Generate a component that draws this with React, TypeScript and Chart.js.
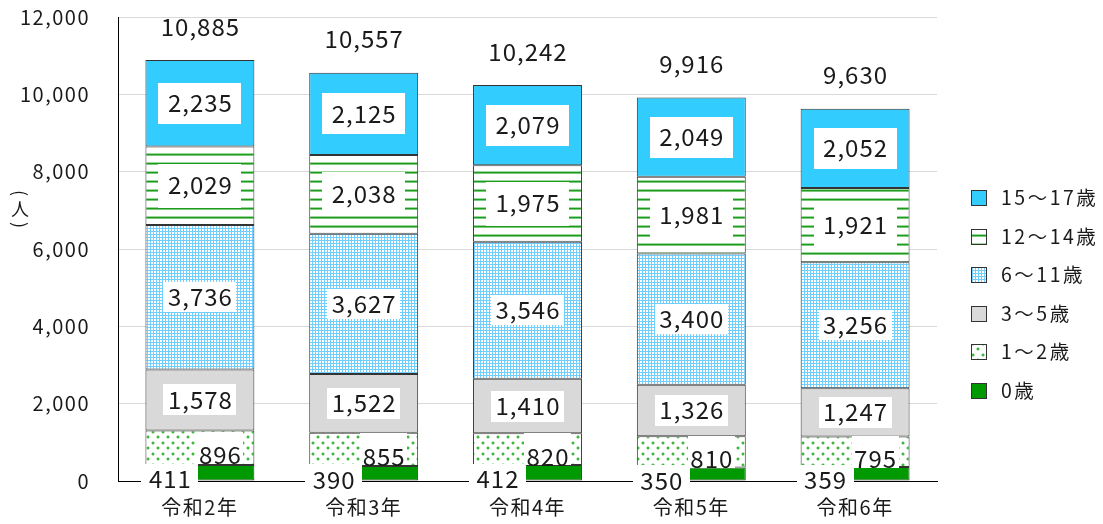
import React, { useEffect, useRef } from 'react';
import { Chart, registerables } from 'chart.js';

Chart.register(...registerables);

// ---- data ----
const categories = ['令和2年', '令和3年', '令和4年', '令和5年', '令和6年'];
const seriesNames = ['0歳', '1～2歳', '3～5歳', '6～11歳', '12～14歳', '15～17歳'];
const age0 = [411, 390, 412, 350, 359];
const age1to2 = [896, 855, 820, 810, 795];
const age3to5 = [1578, 1522, 1410, 1326, 1247];
const age6to11 = [3736, 3627, 3546, 3400, 3256];
const age12to14 = [2029, 2038, 1975, 1981, 1921];
const age15to17 = [2235, 2125, 2079, 2049, 2052];
const totals = [10885, 10557, 10242, 9916, 9630];
const yTicks = [0, 2000, 4000, 6000, 8000, 10000, 12000];
const yTitle = '（人）';

const FONT = '"Noto Sans CJK JP", "Noto Sans", sans-serif';

// label box styles per dataset (bottom to top)
const labelStyles = [
  { dx: -30, dy: 7, padX: 7, up: 16, down: 12 },
  { dx: 20, dy: 8, padX: 2, up: 24, down: 8 },
  { dx: 0, dy: 0, padX: 4, up: 15.5, down: 15.5 },
  { dx: 0, dy: 0, padX: 4, up: 15, down: 15 },
  { dx: 0, dy: 0, padX: 9, up: 22, down: 22 },
  { dx: 0, dy: 0, padX: 9, up: 20.5, down: 20.5 },
];

const fmt = (v: number) => v.toLocaleString('en-US');

export default function App() {
  const ref = useRef<HTMLCanvasElement>(null);

  useEffect(() => {
    document.body.style.margin = '0';
    const canvas = ref.current!;
    const ctx = canvas.getContext('2d')!;

    const tile = (w: number, h: number, paint: (g: CanvasRenderingContext2D) => void) => {
      const c = document.createElement('canvas');
      c.width = w;
      c.height = h;
      const g = c.getContext('2d')!;
      paint(g);
      return ctx.createPattern(c, 'repeat')!;
    };

    const stripes = tile(1, 9, (g) => {
      g.fillStyle = '#ffffff';
      g.fillRect(0, 0, 1, 9);
      g.fillStyle = '#9fd89f';
      g.fillRect(0, 0, 1, 1);
      g.fillStyle = '#1e9b1e';
      g.fillRect(0, 1, 1, 1);
      g.fillStyle = '#7cc97c';
      g.fillRect(0, 2, 1, 1);
    });
    const checks = tile(3, 3, (g) => {
      g.fillStyle = '#70cfff';
      g.fillRect(0, 0, 3, 3);
      g.fillStyle = '#ffffff';
      g.fillRect(1, 1, 2, 2);
    });
    const dots = tile(10, 11, (g) => {
      g.fillStyle = '#ffffff';
      g.fillRect(0, 0, 10, 11);
      const dot = (x: number, y: number) => {
        g.fillStyle = '#b8e6b8';
        g.fillRect(x - 1, y, 4, 2);
        g.fillRect(x, y - 1, 2, 4);
        g.fillStyle = '#3cb83c';
        g.fillRect(x, y, 2, 2);
      };
      dot(2, 2);
      dot(7, 7);
    });

    const fills: (string | CanvasPattern)[] = ['#009900', dots, '#d9d9d9', checks, stripes, '#33ccff'];
    const values = [age0, age1to2, age3to5, age6to11, age12to14, age15to17];

    const drawText = (c: CanvasRenderingContext2D, text: string, cx: number, cy: number, size: number, spacing: number, align: CanvasTextAlign = 'center') => {
      c.font = `${size}px ${FONT}`;
      (c as any).letterSpacing = `${spacing}px`;
      c.textAlign = align;
      c.textBaseline = 'alphabetic';
      c.fillText(text, align === 'center' ? cx + spacing / 2 : cx, cy + size * 0.36);
    };

    const overlay = {
      id: 'overlay',
      beforeDraw(chart: any) {
        (chart.ctx as any).letterSpacing = '1.5px';
      },
      afterDatasetsDraw(chart: any) {
        const c: CanvasRenderingContext2D = chart.ctx;
        c.save();
        const size = 24;
        chart.data.datasets.forEach((ds: any, di: number) => {
          const meta = chart.getDatasetMeta(di);
          const st = labelStyles[di];
          meta.data.forEach((el: any, i: number) => {
            const v = ds.data[i];
            const text = fmt(v);
            const cx = el.x + st.dx;
            const cy = (el.y + el.base) / 2 + st.dy;
            c.font = `${size}px ${FONT}`;
            (c as any).letterSpacing = '1px';
            const w = c.measureText(text).width;
            c.fillStyle = '#ffffff';
            c.fillRect(Math.round(cx - w / 2 - st.padX), Math.round(cy - st.up), Math.round(w + st.padX * 2), Math.round(st.up + st.down));
            c.fillStyle = '#1a1a1a';
            drawText(c, text, cx, cy, size, 1);
          });
        });
        // totals
        const topMeta = chart.getDatasetMeta(chart.data.datasets.length - 1);
        topMeta.data.forEach((el: any, i: number) => {
          c.fillStyle = '#1a1a1a';
          drawText(c, fmt(totals[i]), el.x, el.y - 33, size, 1);
        });
        c.restore();
      },
      afterDraw(chart: any) {
        const c: CanvasRenderingContext2D = chart.ctx;
        c.save();
        (c as any).letterSpacing = '0px';
        // y title in vertical writing: brackets turned, character upright
        c.fillStyle = '#1a1a1a';
        const chars = Array.from(yTitle);
        const tx = 20;
        const ys = [193, 209, 225];
        chars.forEach((ch, k) => {
          c.save();
          c.translate(tx, ys[k]);
          c.font = `18px ${FONT}`;
          c.textAlign = 'center';
          c.textBaseline = 'middle';
          if (k !== 1) {
            c.rotate(Math.PI / 2);
            const t = k === 0 ? '(' : ')';
            c.fillText(t, 0, 0);
          } else {
            c.fillText(ch, 0, 0);
          }
          c.restore();
        });
        // legend
        const order = [5, 4, 3, 2, 1, 0];
        order.forEach((di, k) => {
          const y = 198 + k * 38.5;
          c.fillStyle = fills[di] as any;
          c.fillRect(971, Math.round(y - 8), 16, 16);
          c.strokeStyle = '#333333';
          c.lineWidth = 1;
          c.strokeRect(971.5, Math.round(y - 8) + 0.5, 15, 15);
          c.fillStyle = '#1a1a1a';
          drawText(c, seriesNames[di], 1001, y, 19.5, 2.5, 'left');
        });
        (c as any).letterSpacing = '0px';
        c.restore();
        (c as any).letterSpacing = '0px';
      },
    };

    const chart = new Chart(canvas, {
      type: 'bar',
      data: {
        labels: categories,
        datasets: values.map((vals, di) => ({
          label: seriesNames[di],
          data: vals,
          backgroundColor: fills[di] as any,
          borderColor: '#333333',
          borderWidth: 1,
          borderSkipped: false,
          barPercentage: 0.665,
          categoryPercentage: 1,
        })),
      },
      options: {
        animation: false,
        responsive: false,
        devicePixelRatio: 1,
        layout: { padding: { top: 17, right: 166, left: 0, bottom: 0 } },
        plugins: { legend: { display: false }, tooltip: { enabled: false } },
        scales: {
          x: {
            stacked: true,
            grid: { display: false, drawTicks: false },
            border: { display: true, color: '#000000', width: 1 },
            ticks: { font: { family: FONT, size: 20 }, color: '#1a1a1a', padding: 14 },
            afterFit: (s: any) => {
              s.height = 43;
              s.paddingLeft = 0;
              s.paddingRight = 0;
            },
          },
          y: {
            stacked: true,
            min: yTicks[0],
            max: yTicks[yTicks.length - 1],
            afterBuildTicks: (s: any) => {
              s.ticks = yTicks.map((v) => ({ value: v }));
            },
            ticks: {
              font: { family: FONT, size: 20 },
              color: '#1a1a1a',
              padding: 28,
              callback: (v: any) => fmt(Number(v)),
            },
            grid: { color: '#d9d9d9', drawTicks: false, lineWidth: 1 },
            border: { display: true, color: '#000000', width: 1 },
            afterFit: (s: any) => {
              s.width = 118;
              s.paddingTop = 12;
              s.paddingBottom = 0;
            },
          },
        },
      } as any,
      plugins: [overlay],
    });

    return () => chart.destroy();
  }, []);

  return (
    <div style={{ width: 1103, height: 524, position: 'relative', background: '#ffffff' }}>
      <canvas ref={ref} width={1103} height={524} style={{ width: 1103, height: 524, display: 'block' }} />
    </div>
  );
}
